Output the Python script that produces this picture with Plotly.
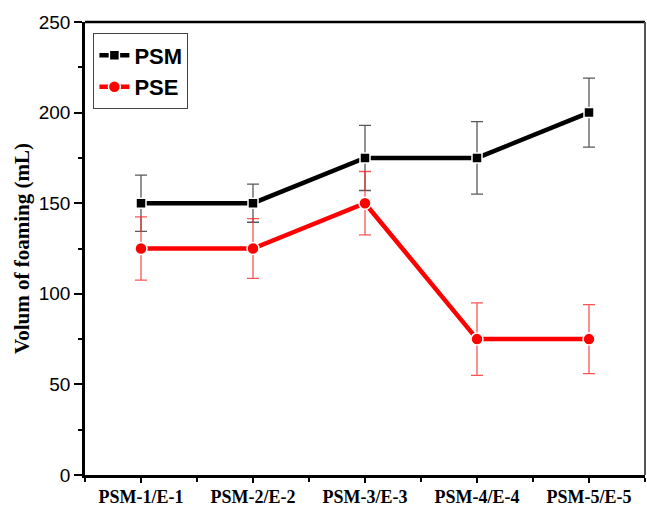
import plotly.graph_objects as go

categories = ["PSM-1/E-1", "PSM-2/E-2", "PSM-3/E-3", "PSM-4/E-4", "PSM-5/E-5"]
psm_values = [150, 150, 175, 175, 200]
psm_errors = [15.5, 10.5, 18, 20, 19]
pse_values = [125, 125, 150, 75, 75]
pse_errors = [17.5, 16.5, 17.5, 20, 19]

x_idx = list(range(len(categories)))

fig = go.Figure()

fig.add_trace(go.Scatter(
    x=x_idx, y=psm_values, name="PSM", mode="lines+markers",
    line=dict(color="black", width=4.5),
    marker=dict(symbol="square", size=10, color="black",
                line=dict(color="white", width=1.5)),
    error_y=dict(type="data", array=psm_errors, visible=True,
                 color="rgba(60,60,60,0.85)", thickness=1.3, width=6),
))

fig.add_trace(go.Scatter(
    x=x_idx, y=pse_values, name="PSE", mode="lines+markers",
    line=dict(color="#ff0000", width=4.5),
    marker=dict(symbol="circle", size=12, color="#ff0000",
                line=dict(color="white", width=1.5)),
    error_y=dict(type="data", array=pse_errors, visible=True,
                 color="rgba(255,40,40,0.8)", thickness=1.3, width=6),
))

fig.update_layout(
    width=647, height=508,
    margin=dict(l=85, r=2, t=22, b=33),
    plot_bgcolor="white", paper_bgcolor="white",
    showlegend=True,
    legend=dict(
        x=0.015, y=0.975, xanchor="left", yanchor="top",
        bgcolor="white", bordercolor="#444", borderwidth=1,
        font=dict(family="Liberation Sans", size=22, color="black", weight="bold"),
        tracegroupgap=0,
    ),
    xaxis=dict(
        range=[-0.5, 4.5], tickmode="array", tickvals=x_idx, ticktext=categories,
        automargin=False,
        showgrid=False, zeroline=False,
        showline=True, linecolor="black", linewidth=2.5,
        ticks="outside", ticklen=5, tickwidth=1.5, tickcolor="black",
        ticklabelstandoff=-1,
        minor=dict(tick0=0.5, dtick=1, ticks="outside", ticklen=4,
                   tickwidth=1.5, tickcolor="black"),
        tickfont=dict(family="Liberation Serif", size=18, color="black", weight="bold"),
    ),
    yaxis=dict(
        range=[0, 250], tickmode="linear", tick0=0, dtick=50,
        automargin=False,
        showgrid=False, zeroline=False,
        showline=True, linecolor="black", linewidth=2.5,
        ticks="outside", ticklen=8, tickwidth=1.5, tickcolor="black",
        minor=dict(dtick=25, ticks="outside", ticklen=4,
                   tickwidth=1.5, tickcolor="black"),
        tickfont=dict(family="Liberation Sans", size=19, color="black"),
        title=dict(text="Volum of foaming (mL)", standoff=4,
                   font=dict(family="Liberation Serif", size=21, color="black", weight="bold")),
    ),
    shapes=[
        dict(type="line", xref="paper", yref="paper", x0=0, x1=1, y0=1, y1=1,
             line=dict(color="black", width=2.5)),
        dict(type="line", xref="paper", yref="paper", x0=1, x1=1, y0=0, y1=1,
             line=dict(color="#555", width=2)),
    ],
)

fig.write_html("out.html")
